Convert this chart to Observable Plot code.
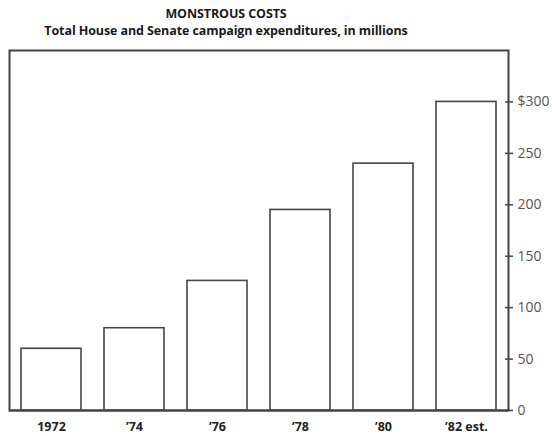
<!DOCTYPE html>
<html>
<head>
<meta charset="utf-8">
<script src="https://cdn.jsdelivr.net/npm/d3@7"></script>
<script src="https://cdn.jsdelivr.net/npm/@observablehq/plot@0.6"></script>
<style>
  html, body { margin: 0; padding: 0; background: #fff; }
  #wrap { width: 552px; height: 436px; overflow: hidden; }
  .hdr { width: 452px; text-align: center; font-family: "Open Sans", sans-serif; font-weight: 700; color: #1a1a1a; white-space: nowrap; }
  #title { padding-top: 6px; font-size: 12.5px; line-height: 16px; letter-spacing: -0.1px; }
  #subtitle { font-size: 12.5px; line-height: 18px; letter-spacing: -0.1px; }
</style>
</head>
<body>
<div id="wrap">
  <div class="hdr" id="title">MONSTROUS COSTS</div>
  <div class="hdr" id="subtitle">Total House and Senate campaign expenditures, in millions</div>
  <div id="chart"></div>
</div>
<script>
const years = ["1972", "\u201974", "\u201976", "\u201978", "\u201980", "\u201982 est."];
const spending = [60, 80, 126, 195, 240, 300];
const yTicks = [0, 50, 100, 150, 200, 250, 300];

const data = years.map((y, i) => ({year: y, value: spending[i]}));
const ink = "#3f4746";

const chart = Plot.plot({
  width: 552,
  height: 396,
  marginLeft: 9,
  marginRight: 44,
  marginTop: 10,
  marginBottom: 26,
  style: {fontFamily: "Open Sans, sans-serif", background: "#fff"},
  x: {domain: years, paddingInner: 0.28, paddingOuter: 0.128},
  y: {domain: [0, 350]},
  marks: [
    Plot.frame({stroke: ink, strokeWidth: 2}),
    Plot.barY(data, {x: "year", y: "value", fill: "#fff", stroke: ink, strokeWidth: 1.6}),
    Plot.ruleY([0], {stroke: ink, strokeWidth: 2}),
    Plot.axisX({tickSize: 0, tickPadding: 12, fontSize: 12.5, fontWeight: "bold", fill: "#222", label: null}),
    Plot.axisY({anchor: "right", ticks: yTicks, tickSize: 4, tickPadding: 5, stroke: ink, strokeWidth: 1.5,
      tickFormat: d => d === 300 ? "$300" : String(d), fontSize: 14, fill: "#555", label: null}),
    Plot.axisY({anchor: "right", ticks: yTicks, tickSize: 4, text: null, dx: -4, stroke: ink, strokeWidth: 1.5, label: null})
  ]
});
document.getElementById("chart").appendChild(chart);
</script>
</body>
</html>
